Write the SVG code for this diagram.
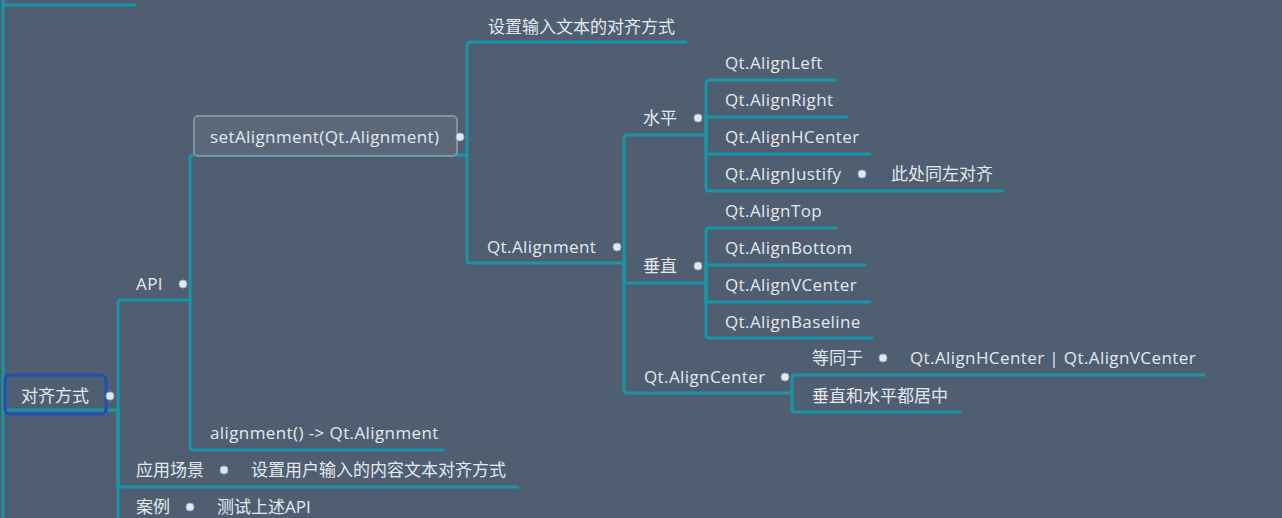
<svg xmlns="http://www.w3.org/2000/svg" width="1282" height="518" viewBox="0 0 1282 518">
<style>
.bg{fill:#505e71}
.ln{fill:none;stroke:#1697a7;stroke-width:3;stroke-linecap:round}
.t{font-family:"Open Sans","Noto Sans CJK SC",sans-serif;font-size:17px;fill:#e4e8ee}
.l{letter-spacing:0.4px}
.d{fill:#e2e8ef;stroke:#9fb2c2;stroke-width:1}
</style>
<rect class="bg" x="0" y="0" width="1282" height="518"/>
<g id="connectors">
<path class="ln" d="M3,0 V518 M3,5 H135"/>
<path class="ln" d="M8,410 H118"/>
<path class="ln" d="M118,410 V303 Q118,300 121,300 H190"/>
<path class="ln" d="M118,410 V484 Q118,487 121,487 H518"/>
<path class="ln" d="M118,410 V520"/>
<path class="ln" d="M190,300 V158 Q190,155 193,155 H467"/>
<path class="ln" d="M190,300 V447 Q190,450 193,450 H443"/>
<path class="ln" d="M467,155 V45 Q467,42 470,42 H686"/>
<path class="ln" d="M467,155 V260 Q467,263 470,263 H624"/>
<path class="ln" d="M624,263 V138 Q624,135 627,135 H706"/>
<path class="ln" d="M624,263 V280 Q624,283 627,283 H706"/>
<path class="ln" d="M624,263 V390 Q624,393 627,393 H792"/>
<path class="ln" d="M706,135 V83 Q706,80 709,80 H835"/>
<path class="ln" d="M706,135 V117 H847"/>
<path class="ln" d="M706,135 V151 Q706,154 709,154 H870"/>
<path class="ln" d="M706,135 V188 Q706,191 709,191 H1003"/>
<path class="ln" d="M706,283 V231 Q706,228 709,228 H836"/>
<path class="ln" d="M706,283 V265 H865"/>
<path class="ln" d="M706,283 V299 Q706,302 709,302 H870"/>
<path class="ln" d="M706,283 V335 Q706,338 709,338 H872"/>
<path class="ln" d="M792,393 V378 Q792,375 795,375 H1204"/>
<path class="ln" d="M792,393 V409 Q792,412 795,412 H960"/>
</g>
<g id="root">
<rect x="5" y="375" width="101" height="39" rx="5" fill="none" stroke="#1e50b0" stroke-width="3"/>
<text class="t" x="55" y="402" text-anchor="middle">对齐方式</text>
<circle class="d" cx="110" cy="396" r="4"/>
</g>
<g id="api"><text class="t l" x="136" y="290">API</text><circle class="d" cx="183" cy="284" r="4"/></g>
<g id="setAlignment">
<rect x="194" y="116" width="263" height="40" rx="4" fill="#5c6a7d" fill-opacity="0.8" stroke="#8d9bab" stroke-width="2" stroke-opacity="0.8"/>
<text class="t l" x="210" y="143">setAlignment(Qt.Alignment)</text>
<circle class="d" cx="460" cy="137" r="4"/>
</g>
<g id="desc1"><text class="t" x="488" y="33">设置输入文本的对齐方式</text></g>
<g id="qtAlignment"><text class="t l" x="487" y="253">Qt.Alignment</text><circle class="d" cx="617" cy="247" r="4"/></g>
<g id="horizontal"><text class="t" x="643" y="124">水平</text><circle class="d" cx="698" cy="118" r="4"/></g>
<g id="alignLeft"><text class="t l" x="725" y="69">Qt.AlignLeft</text></g>
<g id="alignRight"><text class="t l" x="725" y="106">Qt.AlignRight</text></g>
<g id="alignHCenter"><text class="t l" x="725" y="143">Qt.AlignHCenter</text></g>
<g id="alignJustify"><text class="t l" x="725" y="180">Qt.AlignJustify</text><circle class="d" cx="862" cy="174" r="4"/></g>
<g id="justifyNote"><text class="t" x="891" y="180">此处同左对齐</text></g>
<g id="vertical"><text class="t" x="643" y="272">垂直</text><circle class="d" cx="698" cy="266" r="4"/></g>
<g id="alignTop"><text class="t l" x="725" y="217">Qt.AlignTop</text></g>
<g id="alignBottom"><text class="t l" x="725" y="254">Qt.AlignBottom</text></g>
<g id="alignVCenter"><text class="t l" x="725" y="291">Qt.AlignVCenter</text></g>
<g id="alignBaseline"><text class="t l" x="725" y="328">Qt.AlignBaseline</text></g>
<g id="alignCenter"><text class="t l" x="644" y="383">Qt.AlignCenter</text><circle class="d" cx="785" cy="377" r="4"/></g>
<g id="equals"><text class="t" x="812" y="364">等同于</text><circle class="d" cx="883" cy="358" r="4"/></g>
<g id="equalsValue"><text class="t l" x="910" y="364">Qt.AlignHCenter | Qt.AlignVCenter</text></g>
<g id="centerNote"><text class="t" x="812" y="402">垂直和水平都居中</text></g>
<g id="getter"><text class="t l" x="210" y="439">alignment() -&gt; Qt.Alignment</text></g>
<g id="scene"><text class="t" x="136" y="476">应用场景</text><circle class="d" cx="224" cy="470" r="4"/></g>
<g id="sceneDesc"><text class="t" x="251" y="476">设置用户输入的内容文本对齐方式</text></g>
<g id="example"><text class="t" x="136" y="513">案例</text><circle class="d" cx="190" cy="507" r="4"/></g>
<g id="exampleDesc"><text class="t" x="217" y="513">测试上述API</text></g>
</svg>
